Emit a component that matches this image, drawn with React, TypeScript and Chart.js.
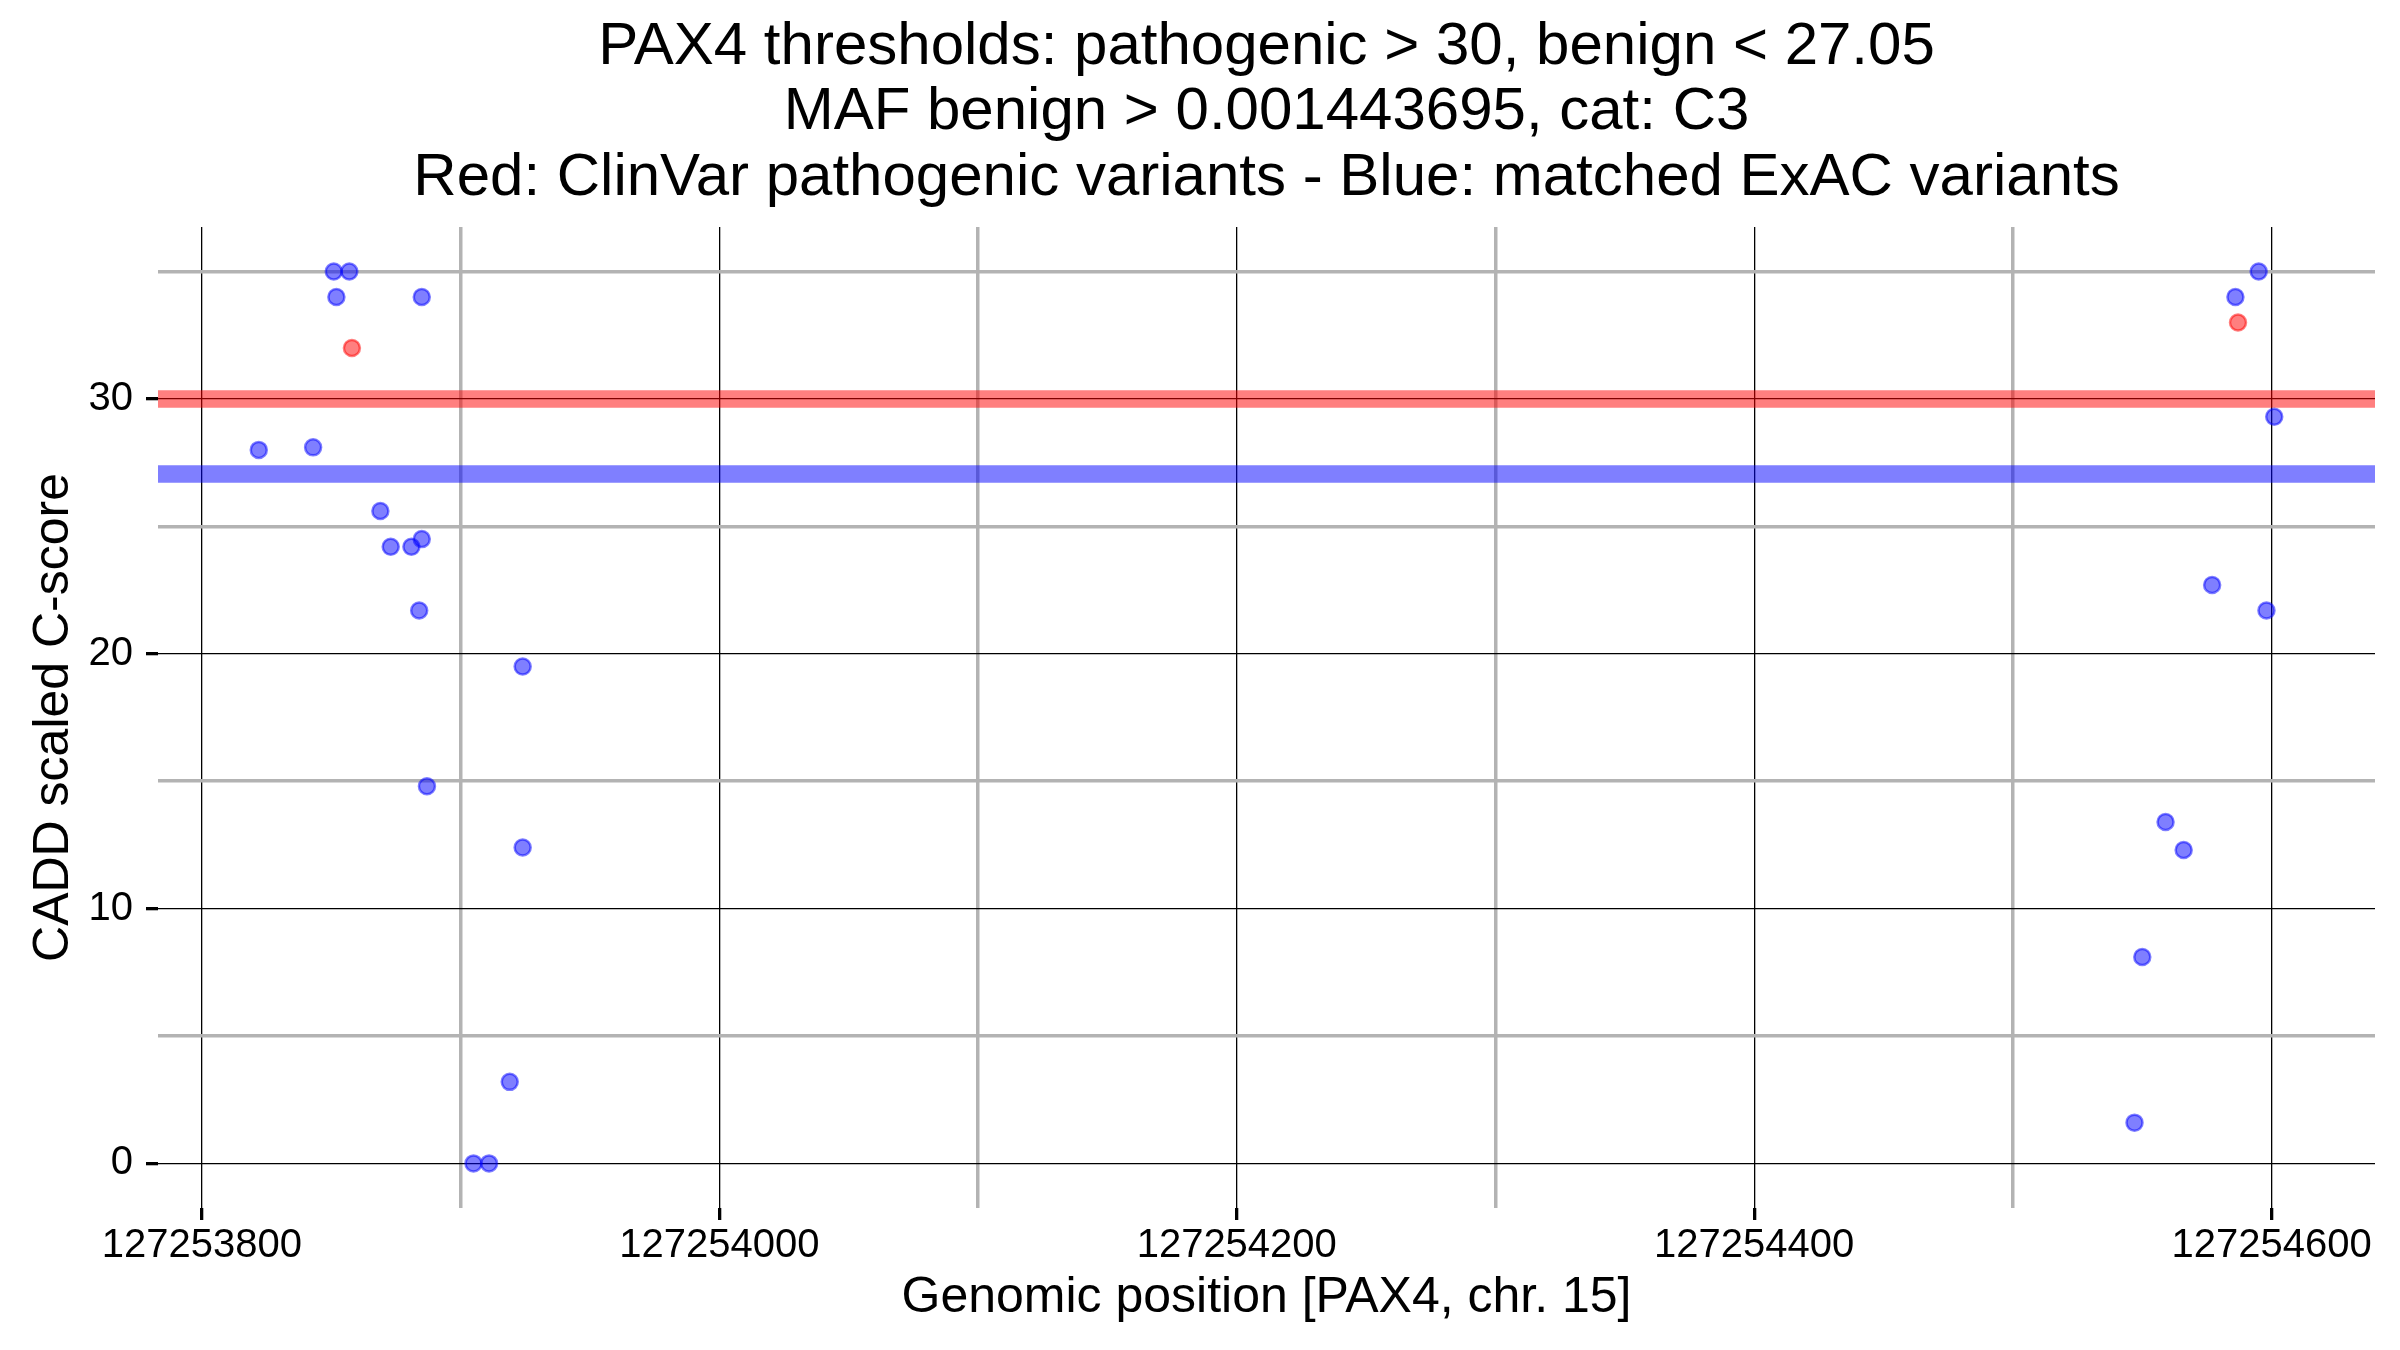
import React, { useEffect, useRef } from "react";
import { Chart, registerables } from "chart.js";

Chart.register(...registerables);

// ---- text ----
const titleLines = [
  "PAX4 thresholds: pathogenic > 30, benign < 27.05",
  "MAF benign > 0.001443695, cat: C3",
  "Red: ClinVar pathogenic variants - Blue: matched ExAC variants",
];
const xAxisTitle = "Genomic position [PAX4, chr. 15]";
const yAxisTitle = "CADD scaled C-score";

// ---- data: matched ExAC variants (blue) ----
const blueX = [
  127253851, 127253857, 127253852, 127253885, 127253822, 127253843,
  127253869, 127253873, 127253881, 127253885, 127253884, 127253887,
  127253924, 127253924, 127253919, 127253905, 127253911,
  127254595, 127254586, 127254601, 127254577, 127254598,
  127254559, 127254566, 127254550, 127254547,
];
const blueY = [
  35, 35, 34, 34, 28.0, 28.1,
  25.6, 24.2, 24.2, 24.5, 21.7, 14.8,
  19.5, 12.4, 3.2, 0, 0,
  35, 34, 29.3, 22.7, 21.7,
  13.4, 12.3, 8.1, 1.6,
];

// ---- data: ClinVar pathogenic variants (red) ----
const redX = [127253858, 127254587];
const redY = [32, 33];

// ---- thresholds ----
const pathogenicThreshold = 30;
const benignThreshold = 27.05;

// ---- ticks ----
const xMajorTicks = [127253800, 127254000, 127254200, 127254400, 127254600];
const xMinorTicks = [127253900, 127254100, 127254300, 127254500];
const yMajorTicks = [0, 10, 20, 30];
const yMinorTicks = [5, 15, 25, 35];

const FONT = "'Liberation Sans', Arial, Helvetica, sans-serif";
const MAJOR_COLOR = "#000000";
const MINOR_COLOR = "#b3b3b3";

export default function App() {
  const ref = useRef<HTMLCanvasElement | null>(null);

  useEffect(() => {
    document.body.style.margin = "0";
    const canvas = ref.current;
    if (!canvas) return;

    const allX = [...blueX, ...redX];
    const allY = [...blueY, ...redY];
    const xLo = Math.min(...allX);
    const xHi = Math.max(...allX);
    const yLo = Math.min(...allY);
    const yHi = Math.max(...allY);
    const xMin = xLo - (xHi - xLo) * 0.05;
    const xMax = xHi + (xHi - xLo) * 0.05;
    const yMin = yLo - (yHi - yLo) * 0.05;
    const yMax = yHi + (yHi - yLo) * 0.05;

    const isMajor = (list: number[], v: any) => list.includes(Number(v));

    const chart = new Chart(canvas, {
      type: "scatter",
      data: {
        datasets: [
          {
            label: "ClinVar pathogenic",
            data: redX.map((x, i) => ({ x, y: redY[i] })),
            backgroundColor: "rgba(255,0,0,0.5)",
            borderColor: "rgba(255,0,0,0.5)",
            borderWidth: 2.5,
            pointRadius: 8,
            order: 0,
          },
          {
            label: "matched ExAC",
            data: blueX.map((x, i) => ({ x, y: blueY[i] })),
            backgroundColor: "rgba(0,0,255,0.5)",
            borderColor: "rgba(0,0,255,0.5)",
            borderWidth: 2.5,
            pointRadius: 8,
            order: 1,
          },
          {
            label: "pathogenic threshold",
            data: [
              { x: xMin, y: pathogenicThreshold },
              { x: xMax, y: pathogenicThreshold },
            ],
            showLine: true,
            borderColor: "rgba(255,0,0,0.5)",
            backgroundColor: "rgba(255,0,0,0.5)",
            borderWidth: 17.5,
            pointRadius: 0,
            order: 2,
          } as any,
          {
            label: "benign threshold",
            data: [
              { x: xMin, y: benignThreshold },
              { x: xMax, y: benignThreshold },
            ],
            showLine: true,
            borderColor: "rgba(0,0,255,0.5)",
            backgroundColor: "rgba(0,0,255,0.5)",
            borderWidth: 17.5,
            pointRadius: 0,
            order: 3,
          } as any,
        ],
      },
      options: {
        animation: false,
        responsive: false,
        devicePixelRatio: 1,
        layout: {
          autoPadding: false,
          padding: { left: 0, right: 25, top: 0, bottom: 0 },
        },
        plugins: {
          legend: { display: false },
          tooltip: { enabled: false },
          title: {
            display: true,
            text: titleLines,
            fullSize: false,
            color: "#000",
            font: { family: FONT, size: 60, weight: "normal", lineHeight: 1.088 },
            padding: { top: 14.85, bottom: 16.25 },
          },
        },
        scales: {
          x: {
            type: "linear",
            min: xMin,
            max: xMax,
            border: { display: false },
            afterBuildTicks: (s: any) => {
              s.ticks = [...xMajorTicks, ...xMinorTicks]
                .sort((a, b) => a - b)
                .map((v) => ({ value: v }));
            },
            afterFit: (s: any) => {
              s.height = 142;
            },
            grid: {
              color: (c: any) => (c.tick && isMajor(xMajorTicks, c.tick.value) ? MAJOR_COLOR : MINOR_COLOR),
              lineWidth: (c: any) => (c.tick && isMajor(xMajorTicks, c.tick.value) ? 1.3 : 3.5),
              tickColor: (c: any) => (c.tick && isMajor(xMajorTicks, c.tick.value) ? MAJOR_COLOR : "rgba(0,0,0,0)"),
              tickWidth: 3.3,
              tickLength: 12,
              drawTicks: true,
            },
            ticks: {
              autoSkip: false,
              maxRotation: 0,
              minRotation: 0,
              padding: 2,
              color: "#000",
              font: { family: FONT, size: 40 },
              callback: (v: any) => (isMajor(xMajorTicks, v) ? String(v) : ""),
            },
            title: {
              display: true,
              text: xAxisTitle,
              color: "#000",
              font: { family: FONT, size: 50 },
              padding: { top: 0, bottom: 22 },
            },
          },
          y: {
            type: "linear",
            min: yMin,
            max: yMax,
            border: { display: false },
            afterBuildTicks: (s: any) => {
              s.ticks = [...yMajorTicks, ...yMinorTicks]
                .sort((a, b) => a - b)
                .map((v) => ({ value: v }));
            },
            afterFit: (s: any) => {
              s.width = 158;
            },
            grid: {
              color: (c: any) => (c.tick && isMajor(yMajorTicks, c.tick.value) ? MAJOR_COLOR : MINOR_COLOR),
              lineWidth: (c: any) => (c.tick && isMajor(yMajorTicks, c.tick.value) ? 1.3 : 3.5),
              tickColor: (c: any) => (c.tick && isMajor(yMajorTicks, c.tick.value) ? MAJOR_COLOR : "rgba(0,0,0,0)"),
              tickWidth: 3.3,
              tickLength: 12,
              drawTicks: true,
            },
            ticks: {
              autoSkip: false,
              padding: 13,
              color: "#000",
              font: { family: FONT, size: 40 },
              callback: (v: any) => (isMajor(yMajorTicks, v) ? String(v) : ""),
            },
            title: {
              display: true,
              text: yAxisTitle,
              color: "#000",
              font: { family: FONT, size: 50 },
              padding: { top: 24, bottom: 0 },
            },
          },
        },
      } as any,
    });

    return () => {
      chart.destroy();
    };
  }, []);

  return (
    <div style={{ width: 2400, height: 1350, background: "#fff" }}>
      <canvas ref={ref} width={2400} height={1350} style={{ width: 2400, height: 1350, display: "block" }} />
    </div>
  );
}
